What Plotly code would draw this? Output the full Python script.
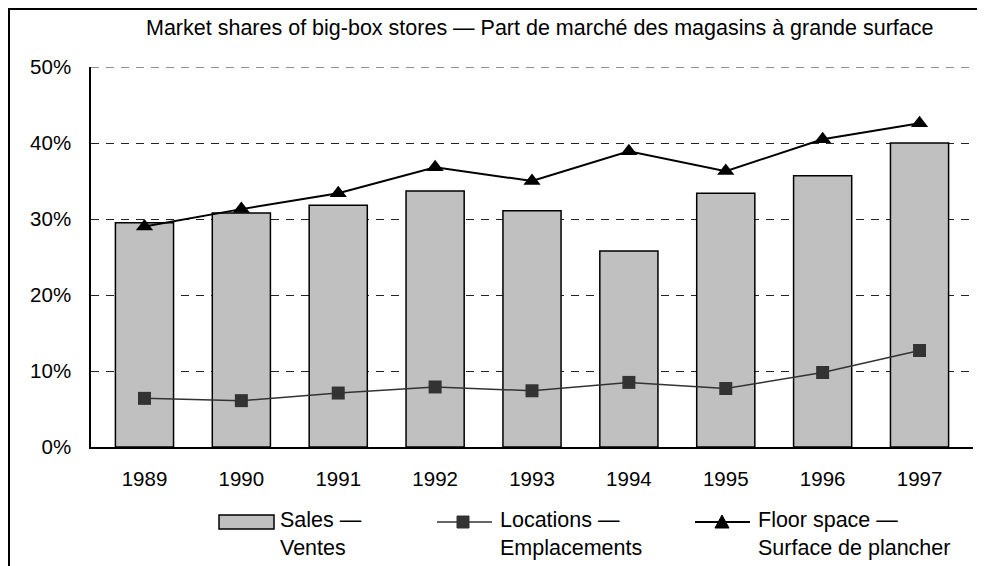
import plotly.graph_objects as go

# ---- data ----
years = ["1989", "1990", "1991", "1992", "1993", "1994", "1995", "1996", "1997"]
sales = [29.5, 30.8, 31.8, 33.7, 31.1, 25.8, 33.4, 35.7, 40.0]
locations = [6.4, 6.1, 7.1, 7.9, 7.4, 8.5, 7.7, 9.8, 12.7]
floor_space = [29.0, 31.3, 33.4, 36.8, 35.0, 38.9, 36.3, 40.5, 42.6]
y_ticks = [0, 10, 20, 30, 40, 50]
y_tick_labels = ["0%", "10%", "20%", "30%", "40%", "50%"]
series_names = ["Sales —<br>Ventes", "Locations —<br>Emplacements", "Floor space —<br>Surface de plancher"]
title_text = "Market shares of big-box stores — Part de marché des magasins à grande surface"

FONT = "Liberation Sans, Arial, sans-serif"
FS = 20.5
FS_TEXT = 21.5

# page offset from the default body margin
OFF = 8
W, H = 985 - OFF, 566 - OFF
# plot area in page pixels: x 91..973, y 67..447
PL, PR, PT, PB = 91, 973, 67, 447
L, R, T, B = PL - OFF, W - (PR - OFF), PT - OFF, H - (PB - OFF)
PW, PH = PR - PL, PB - PT


def px(x):  # page x -> paper
    return (x - PL) / PW


def py(y):  # page y -> paper
    return (PB - y) / PH


fig = go.Figure()
fig.add_trace(go.Bar(
    x=years, y=sales, name="Sales", width=0.6,
    marker=dict(color="#c0c0c0", line=dict(color="#000000", width=1.5)),
))
fig.add_trace(go.Scatter(
    x=years, y=locations, name="Locations", mode="lines+markers",
    line=dict(color="#333333", width=1.5),
    marker=dict(symbol="square", size=13, color="#333333"),
))
fig.add_trace(go.Scatter(
    x=years, y=floor_space, name="Floor space", mode="lines+markers",
    line=dict(color="#000000", width=2),
    marker=dict(symbol="triangle-up", size=15, color="#000000"),
))

shapes = []
annotations = []

# outer border (extends past right/bottom edges as in the reference)
shapes.append(dict(type="rect", xref="paper", yref="paper",
                   x0=px(9), x1=px(1000), y0=py(590), y1=py(9),
                   line=dict(color="#000000", width=2), fillcolor="rgba(0,0,0,0)", layer="below"))

# top gridline (plotly drops the gridline at the range edge)
shapes.append(dict(type="line", xref="paper", yref="y",
                   x0=0, x1=1, y0=y_ticks[-1], y1=y_ticks[-1],
                   line=dict(color="#222222", width=1, dash="8px,7px"), layer="below"))

# custom legend
leg_y = 522
shapes.append(dict(type="rect", xref="paper", yref="paper",
                   x0=px(219), x1=px(274), y0=py(529), y1=py(515),
                   line=dict(color="#000000", width=1.5), fillcolor="#c0c0c0"))
shapes.append(dict(type="line", xref="paper", yref="paper",
                   x0=px(437), x1=px(492), y0=py(leg_y), y1=py(leg_y),
                   line=dict(color="#333333", width=1.5)))
shapes.append(dict(type="rect", xref="paper", yref="paper",
                   x0=px(457), x1=px(469), y0=py(leg_y + 6), y1=py(leg_y - 6),
                   line=dict(color="#333333", width=1), fillcolor="#333333"))
shapes.append(dict(type="line", xref="paper", yref="paper",
                   x0=px(695), x1=px(750), y0=py(leg_y), y1=py(leg_y),
                   line=dict(color="#000000", width=2)))
shapes.append(dict(type="path", xref="paper", yref="paper",
                   path="M {:.5f} {:.5f} L {:.5f} {:.5f} L {:.5f} {:.5f} Z".format(
                       px(715), py(leg_y + 6), px(729), py(leg_y + 6), px(722), py(leg_y - 7)),
                   line=dict(color="#000000", width=1), fillcolor="#000000"))

for xpos, name in zip([278, 498, 756], series_names):
    annotations.append(dict(xref="paper", yref="paper", x=px(xpos), y=py(534),
                            xanchor="left", yanchor="middle", align="left",
                            text=name, showarrow=False,
                            font=dict(family=FONT, size=FS_TEXT, color="#000000")))

annotations.append(dict(xref="paper", yref="paper", x=px(540), y=py(28),
                        xanchor="center", yanchor="middle",
                        text=title_text, showarrow=False,
                        font=dict(family=FONT, size=FS_TEXT, color="#000000")))

fig.update_layout(
    width=W, height=H,
    margin=dict(l=L, r=R, t=T, b=B, pad=0),
    paper_bgcolor="#ffffff", plot_bgcolor="#ffffff",
    showlegend=False,
    bargap=0.4,
    font=dict(family=FONT, size=FS, color="#000000"),
    shapes=shapes, annotations=annotations,
    xaxis=dict(type="category", showgrid=False, showline=True, linecolor="#000000", linewidth=1.5,
               ticks="", ticklabelstandoff=13, tickfont=dict(family=FONT, size=FS, color="#000000"),
               zeroline=False, fixedrange=True),
    yaxis=dict(range=[0, 50], tickmode="array", tickvals=y_ticks, ticktext=y_tick_labels,
               showgrid=True, gridcolor="#222222", gridwidth=1, griddash="8px,7px",
               showline=True, linecolor="#000000", linewidth=1.5, ticks="",
               ticklabelstandoff=14, tickfont=dict(family=FONT, size=FS, color="#000000"),
               zeroline=False, fixedrange=True),
)

fig.write_html("out.html")
